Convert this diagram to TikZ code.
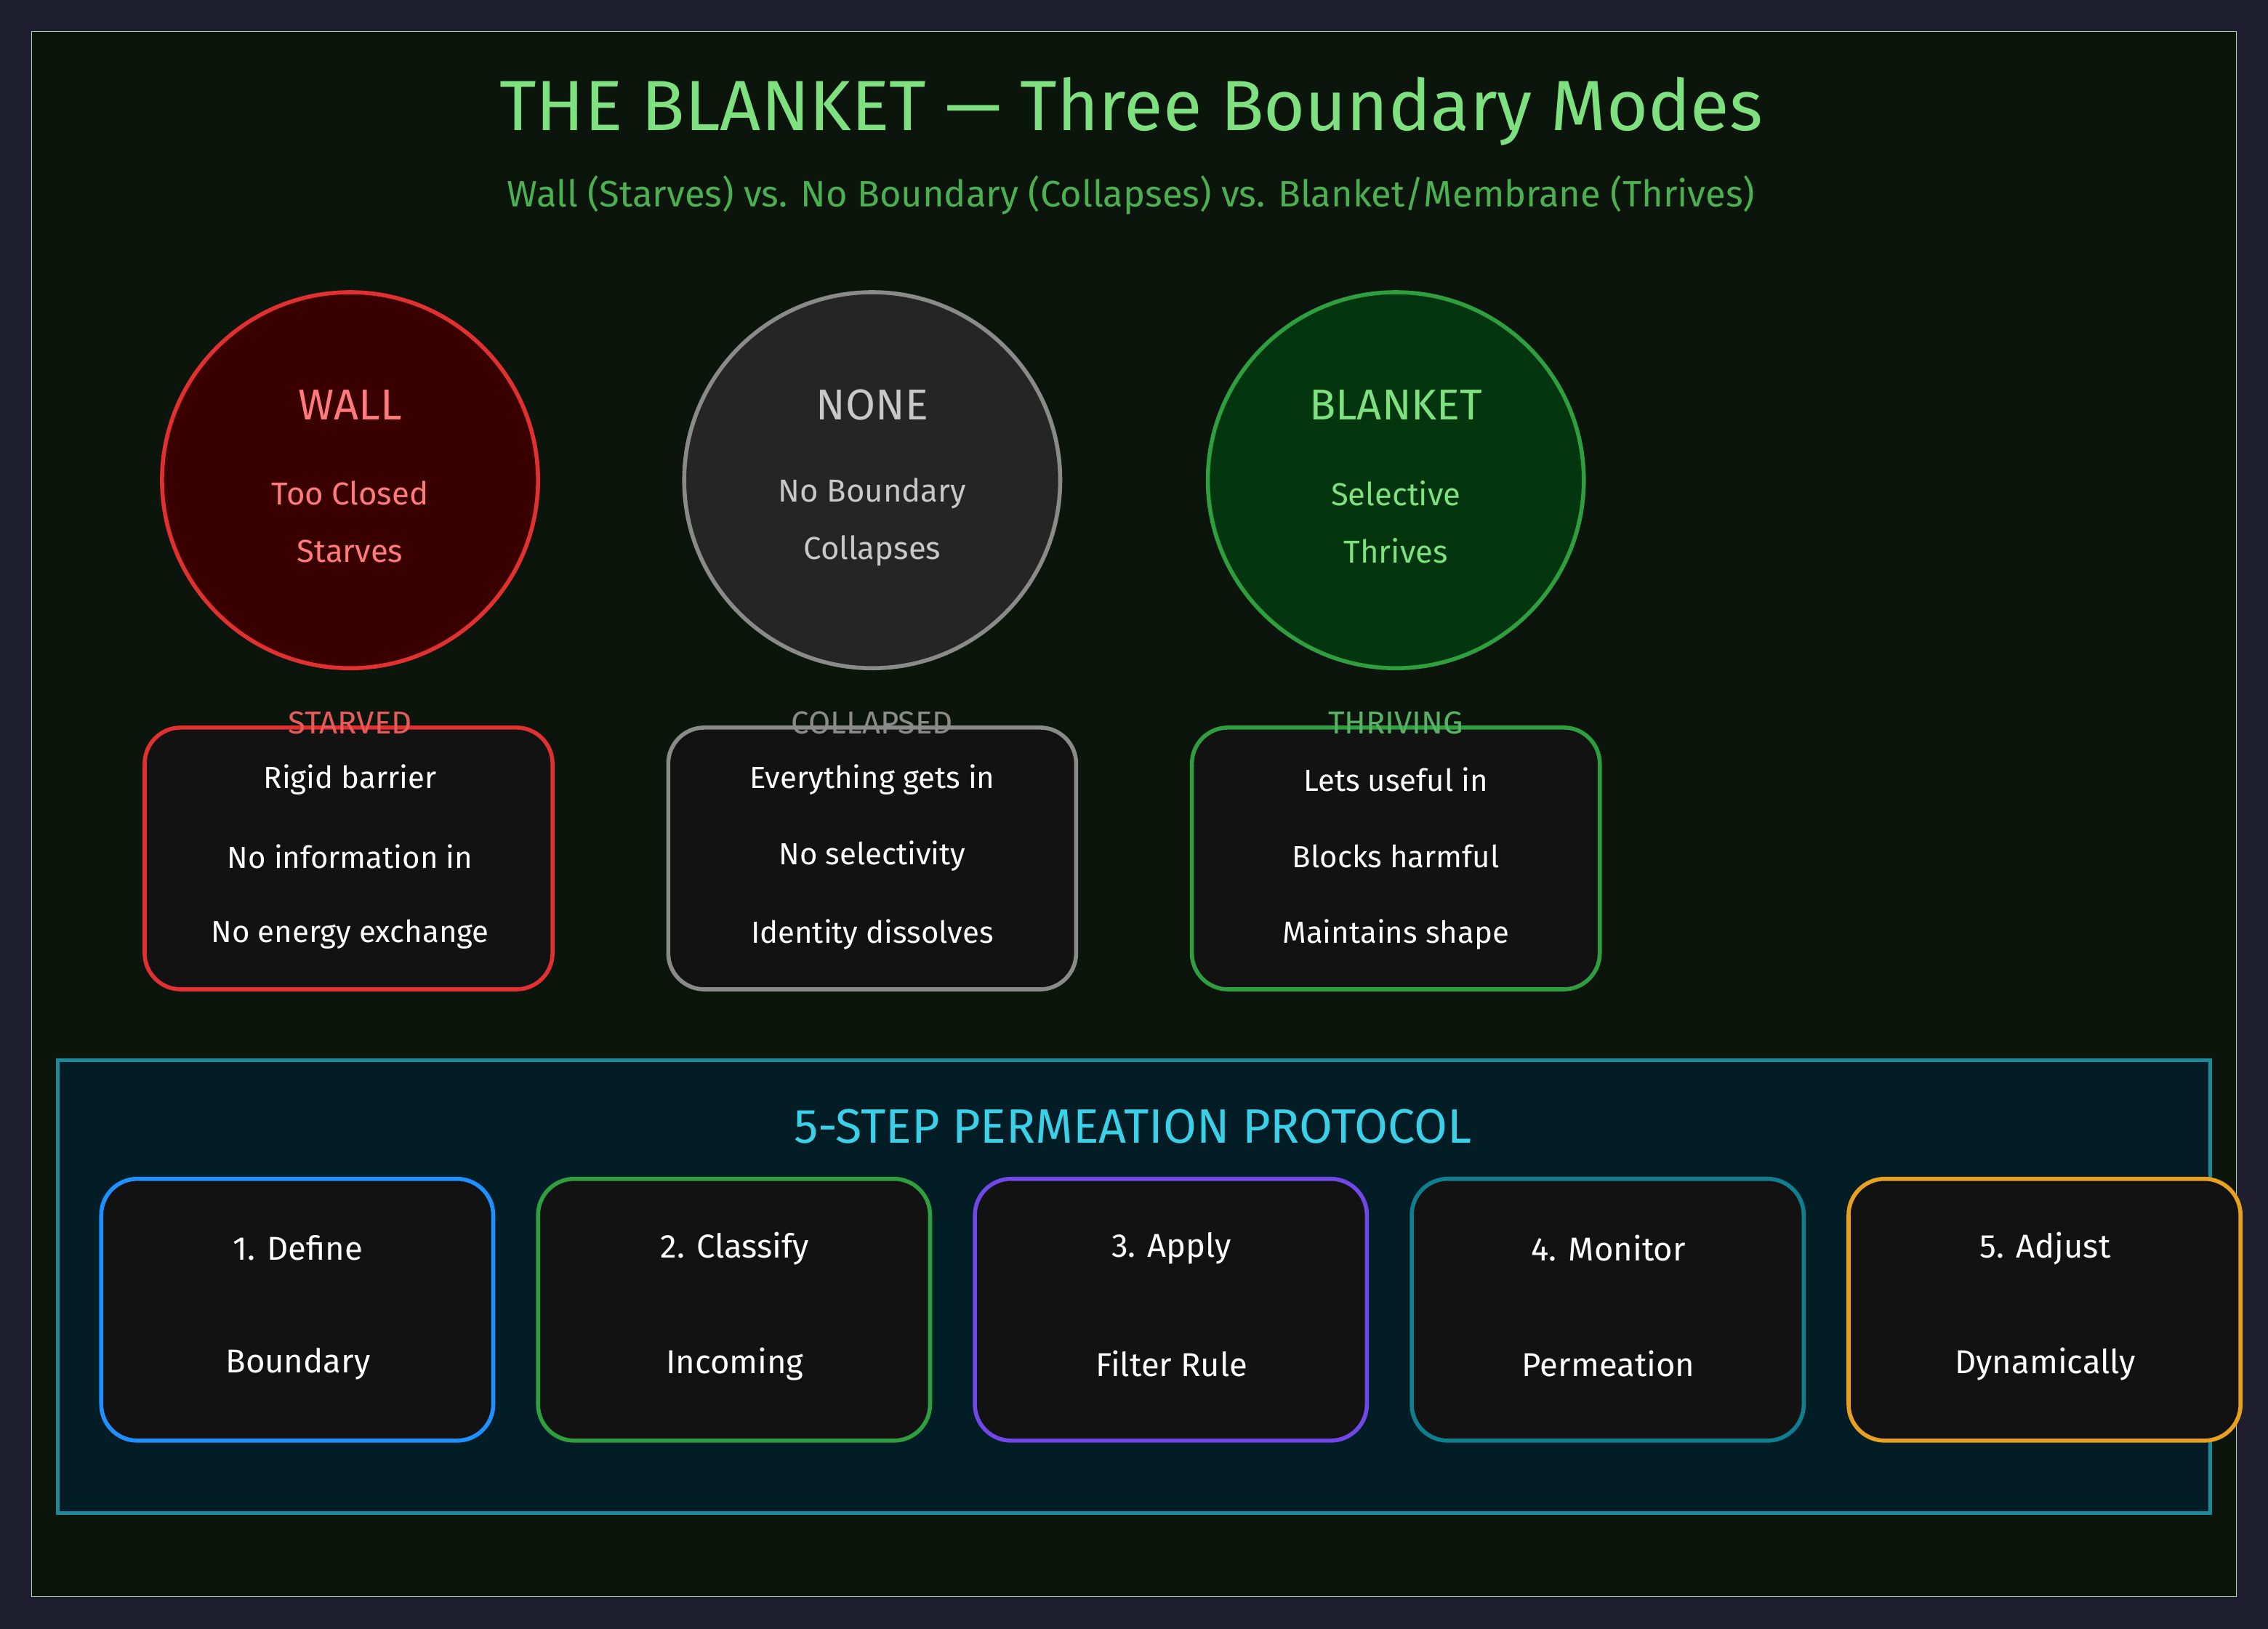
\documentclass[tikz,border=0pt]{standalone}
\usepackage{fontspec}
\setmainfont{Fira Sans}
\usepackage{tikz}
\usetikzlibrary{positioning}
\definecolor{bgout}{HTML}{1E1E2E}
\definecolor{bgin}{HTML}{0B150B}
\definecolor{titlegreen}{HTML}{7EE07E}
\definecolor{subgreen}{HTML}{4CAF50}
\definecolor{wallred}{HTML}{E03030}
\definecolor{wallfill}{HTML}{3A0000}
\definecolor{walltext}{HTML}{FF7B7B}
\definecolor{nonegray}{HTML}{8A8A8A}
\definecolor{nonefill}{HTML}{252525}
\definecolor{nonetext}{HTML}{C8C8C8}
\definecolor{blkgreen}{HTML}{2E9E3E}
\definecolor{blkfill}{HTML}{03350F}
\definecolor{boxfill}{HTML}{121212}
\definecolor{protofill}{HTML}{021D25}
\definecolor{protoline}{HTML}{1A8A9A}
\definecolor{protocyan}{HTML}{3AD0E8}
\definecolor{stepblue}{HTML}{1E90FF}
\definecolor{steppurple}{HTML}{7048E8}
\definecolor{stepteal}{HTML}{0F7F8F}
\definecolor{steporange}{HTML}{E8A020}
\begin{document}
\begin{tikzpicture}[x=0.02cm,y=-0.02cm,
  mode/.style={circle, line width=1.6pt, minimum size=5.2cm, inner sep=0pt},
  card/.style={rounded corners=0.5cm, line width=1.6pt, fill=boxfill},
  ctitle/.style={font=\fontsize{17}{20}\selectfont},
  ctext/.style={font=\fontsize{12.5}{15}\selectfont},
  btext/.style={font=\fontsize{12}{14}\selectfont, text=white},
  stext/.style={font=\fontsize{13}{15}\selectfont, text=white}]
  % background
  \fill[bgout] (0,0) rectangle (1568,1126);
  \draw[fill=bgin, draw=black!60!green!30] (22,22) rectangle (1546,1104);
  \useasboundingbox (0,0) rectangle (1568,1126);

  \node (title) at (782,77) [text=titlegreen, font=\fontsize{28}{32}\selectfont] {THE BLANKET — Three Boundary Modes};
  \node (subtitle) at (782,135) [text=subgreen, font=\fontsize{14.5}{17}\selectfont] {Wall (Starves) vs. No Boundary (Collapses) vs. Blanket/Membrane (Thrives)};

  % three modes
  \node (wall) at (242,332) [mode, draw=wallred, fill=wallfill] {};
  \node (none) at (603,332) [mode, draw=nonegray, fill=nonefill] {};
  \node (blanket) at (965,332) [mode, draw=blkgreen, fill=blkfill] {};
  \foreach \n/\x/\c/\a/\b/\d in {wall/242/walltext/WALL/Too Closed/Starves,
      none/603/nonetext/NONE/No Boundary/Collapses,
      blanket/965/titlegreen/BLANKET/Selective/Thrives}{
    \node (\n-t) at (\x,280) [ctitle, text=\c] {\a};
    \node (\n-a) at (\x,341) [ctext, text=\c] {\b};
    \node (\n-b) at (\x,381) [ctext, text=\c] {\d};
  }

  % outcome cards
  \draw[card, draw=wallred] (100,503) rectangle (382,684);
  \draw[card, draw=nonegray] (462,503) rectangle (744,684);
  \draw[card, draw=blkgreen] (824,503) rectangle (1106,684);
  \node (starved) at (242,500) [ctext, text=wallred!80] {STARVED};
  \node (collapsed) at (603,500) [ctext, text=nonegray] {COLLAPSED};
  \node (thriving) at (965,500) [ctext, text=blkgreen!80!white] {THRIVING};
  \node (wall-1) at (242,539) [btext] {Rigid barrier};
  \node (wall-2) at (242,592) [btext] {No information in};
  \node (wall-3) at (242,646) [btext] {No energy exchange};
  \node (none-1) at (603,539) [btext] {Everything gets in};
  \node (none-2) at (603,592) [btext] {No selectivity};
  \node (none-3) at (603,646) [btext] {Identity dissolves};
  \node (blanket-1) at (965,539) [btext] {Lets useful in};
  \node (blanket-2) at (965,592) [btext] {Blocks harmful};
  \node (blanket-3) at (965,646) [btext] {Maintains shape};

  % protocol
  \draw[fill=protofill, draw=protoline, line width=1.4pt] (40,733) rectangle (1528,1046);
  \node (proto) at (783,779) [text=protocyan, font=\fontsize{19}{22}\selectfont] {5-STEP PERMEATION PROTOCOL};
  \foreach \i/\x/\c/\a/\b in {1/70/stepblue/1. Define/Boundary,
      2/372/blkgreen/2. Classify/Incoming,
      3/674/steppurple/3. Apply/Filter Rule,
      4/976/stepteal/4. Monitor/Permeation,
      5/1278/steporange/5. Adjust/Dynamically}{
    \draw[card, draw=\c] (\x,815) rectangle ++(271,181);
    \node (step\i-a) at ({\x+136},863) [stext] {\a};
    \node (step\i-b) at ({\x+136},943) [stext] {\b};
  }
\end{tikzpicture}
\end{document}
